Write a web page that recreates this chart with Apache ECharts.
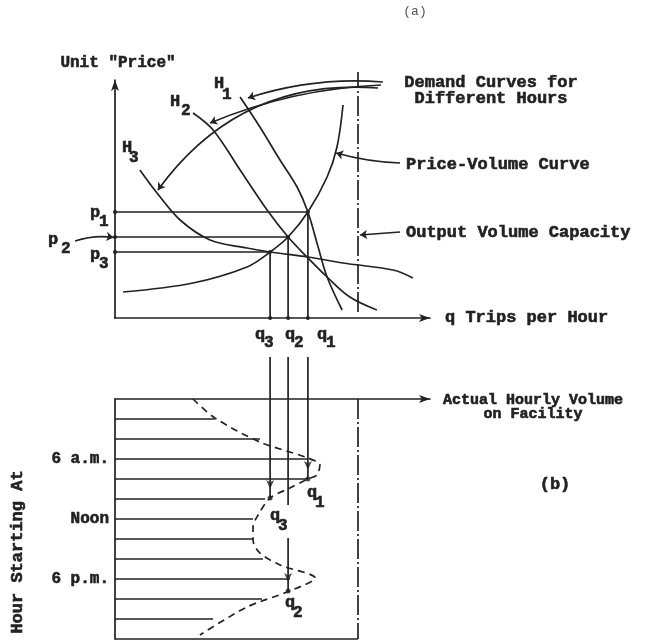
<!DOCTYPE html>
<html>
<head>
<meta charset="utf-8">
<script src="https://cdn.jsdelivr.net/npm/echarts@6/dist/echarts.min.js"></script>
<style>
  html, body { margin: 0; padding: 0; background: #ffffff; }
  #chart { width: 649px; height: 641px; }
</style>
</head>
<body>
<div id="chart"></div>
<script>
// ---------- Panel (a): unit price vs. trips per hour ----------
const priceVolumeQ = [2.7, 26, 44, 51.7, 57.7, 64.3, 70.7, 74, 76];
const priceVolumeP = [13, 17.5, 25.5, 33, 40.5, 53, 70.5, 85.5, 106.5];

const demandH1Q = [41.7, 48.3, 55, 60.7, 64.3, 67.7, 70.7, 75.7];
const demandH1P = [110.5, 95.5, 79, 65.5, 53, 35.5, 20.5, 4];
const demandH2Q = [26, 32.7, 41.7, 50.7, 57.7, 64, 70.7, 78.3, 87.3];
const demandH2P = [102.5, 94, 74, 54, 40.5, 30.5, 20.5, 10.5, 4];
const demandH3Q = [8.3, 14, 21.7, 31.7, 44, 51.7, 64.3, 76, 92.7, 99.3];
const demandH3P = [74, 62.5, 49, 39, 35, 33, 30.5, 27.5, 24, 20];

// equilibrium points, index 0..2 = hours 1..3
const equilibriumQ = [64.3, 57.7, 51.7];
const equilibriumP = [53, 40.5, 33];
const equilibriumNames = ['1', '2', '3'];
const capacityQ = 81;

// ---------- Panel (b): hourly volume through the day ----------
const barHours   = [2, 4, 6, 8, 10, 12, 14, 16, 18, 20, 22];
const barVolumes = [33.3, 48.3, 64.3, 64.3, 50, 46, 46, 49.3, 58.3, 49, 32.7];
const profileHours   = [0, 1.9, 4.3, 5.9, 6.6, 7.6, 8, 8.9, 9.9, 11.6, 12.8, 14.1, 15.4, 16.6, 17.9, 19.3, 20.8, 23.6];
const profileVolumes = [26, 33.3, 48.3, 64.3, 68.3, 67.3, 64.3, 58.3, 51.7, 47.7, 46, 46, 48.3, 55, 66.7, 57.3, 44, 28.3];
const hourTicks = [6, 12, 18];
const hourTickLabels = ['6 a.m.', 'Noon', '6 p.m.'];
// hour at which each equilibrium volume q1, q2, q3 meets the daily profile
const equilibriumHours = [8, 19.2, 9.9];

// ---------- styling ----------
const INK = '#222222';
const LW = 1.7;
const FONT_FAMILY = '"Liberation Mono", "DejaVu Sans Mono", monospace';
const FONT = 'bold 17px ' + FONT_FAMILY;
const SUB_FONT = 'bold 16px ' + FONT_FAMILY;
const TEXT_WEIGHT = 0.6; // extra stroke for a heavier typewriter look

const pairs = (xs, ys) => xs.map((x, i) => [x, ys[i]]);

function curve(grid, data, extra) {
  return Object.assign({
    type: 'line', xAxisIndex: grid, yAxisIndex: grid, data: data,
    symbol: 'none', smooth: 0.4, clip: false, silent: true, z: 3,
    lineStyle: { color: INK, width: LW }
  }, extra || {});
}

function arrows(grid, items, size) {
  return {
    type: 'lines', coordinateSystem: 'cartesian2d', xAxisIndex: grid, yAxisIndex: grid,
    clip: false, silent: true, z: 4,
    symbol: ['none', 'arrow'], symbolSize: size || 8,
    lineStyle: { color: INK, width: LW, opacity: 1 },
    data: items.map(it => ({ coords: it.coords, lineStyle: { curveness: it.curveness || 0 } }))
  };
}

const hiddenAxisParts = {
  axisTick: { show: false }, axisLabel: { show: false }, splitLine: { show: false }
};

const series = [];

// demand curves and the price-volume curve
series.push(curve(0, pairs(priceVolumeQ, priceVolumeP), { smooth: 0.35 }));
series.push(curve(0, pairs(demandH1Q, demandH1P), { smooth: 0.35 }));
series.push(curve(0, pairs(demandH2Q, demandH2P), { smooth: 0.35 }));
series.push(curve(0, pairs(demandH3Q, demandH3P), { smooth: 0.35 }));

// output volume capacity (dash-dot), both panels
series.push(curve(0, [[capacityQ, 3], [capacityQ, 123]], {
  smooth: false, lineStyle: { color: INK, width: LW, type: [20, 3, 2, 3] }
}));
series.push(curve(1, [[capacityQ, 0], [capacityQ, 24]], {
  smooth: false, lineStyle: { color: INK, width: LW, type: [20, 3, 2, 3] }
}));

// price and volume read-offs for each equilibrium
equilibriumQ.forEach((q, i) => {
  const p = equilibriumP[i];
  series.push(curve(0, [[0, p], [q, p], [q, 0]], {
    smooth: false, symbol: 'circle', symbolSize: 4, showSymbol: true, showAllSymbol: true,
    itemStyle: { color: INK }
  }));
});

// leader arrows naming the curves
series.push(arrows(0, [
  { coords: [[89.3, 118], [44.3, 110]], curveness: -0.1 },
  { coords: [[88.7, 116.5], [31.7, 97.5]], curveness: -0.09 },
  { coords: [[87.7, 115], [14.3, 64]], curveness: -0.28 },
  { coords: [[95, 77.5], [73.7, 82.5]], curveness: 0.06 },
  { coords: [[95, 43], [81.7, 41.5]], curveness: 0 },
  { coords: [[-13.3, 38.5], [-0.5, 40.3]], curveness: 0.12 }
], 7));

// panel (b): bottom border of the facility box
series.push(curve(1, [[0, 24], [capacityQ, 24]], { smooth: false }));

// hourly volumes as horizontal strokes from the time axis
series.push({
  type: 'custom', xAxisIndex: 1, yAxisIndex: 1, silent: true, z: 3,
  data: pairs(barVolumes, barHours),
  encode: { x: 0, y: 1 },
  renderItem: function (params, api) {
    const a = api.coord([0, api.value(1)]);
    const b = api.coord([api.value(0), api.value(1)]);
    return {
      type: 'line',
      shape: { x1: a[0], y1: a[1], x2: b[0], y2: b[1] },
      style: { stroke: INK, lineWidth: LW }
    };
  }
});

// continuous daily volume profile (dashed)
series.push(curve(1, pairs(profileVolumes, profileHours), {
  smooth: 0.3, lineStyle: { color: INK, width: LW, type: [7, 5] }
}));

// equilibrium volumes carried down to the hour they occur
const dropStart = -4.2;
equilibriumQ.forEach((q, i) => {
  const h = equilibriumHours[i];
  if (i === 1) {
    series.push(curve(1, [[q, dropStart], [q, 10.6]], { smooth: false }));
    series.push(curve(1, [[q, 13.9], [q, h]], { smooth: false }));
  } else {
    series.push(curve(1, [[q, dropStart], [q, h]], { smooth: false }));
  }
});
series.push({
  type: 'scatter', xAxisIndex: 1, yAxisIndex: 1, silent: true, z: 5, clip: false,
  symbol: 'circle', symbolSize: 5, itemStyle: { color: INK },
  data: pairs(equilibriumQ, equilibriumHours)
});
series.push({
  type: 'scatter', xAxisIndex: 1, yAxisIndex: 1, silent: true, z: 5, clip: false,
  symbol: 'arrow', symbolSize: [6, 9], symbolRotate: 180, itemStyle: { color: INK },
  data: equilibriumQ.map((q, i) => [q, equilibriumHours[i] - 0.9])
});

const boldText = {
  color: INK, fontWeight: 'bold', fontFamily: FONT_FAMILY,
  textBorderColor: INK, textBorderWidth: TEXT_WEIGHT
};

const option = {
  animation: false,
  backgroundColor: '#ffffff',
  textStyle: { fontFamily: FONT_FAMILY },
  grid: [
    { left: 115, top: 80, width: 315, height: 238 },
    { left: 115, top: 399, width: 315, height: 240 }
  ],
  xAxis: [
    Object.assign({
      gridIndex: 0, type: 'value', min: 0, max: 105,
      axisLine: { show: true, onZero: false, symbol: ['none', 'arrow'], symbolSize: [6, 11],
        lineStyle: { color: INK, width: LW } },
      name: 'q Trips per Hour', nameLocation: 'end', nameGap: 15,
      nameTextStyle: Object.assign({ fontSize: 17, align: 'left', verticalAlign: 'middle',
        padding: [2, 0, 0, 0] }, boldText)
    }, hiddenAxisParts),
    Object.assign({
      gridIndex: 1, type: 'value', min: 0, max: 105, position: 'top',
      axisLine: { show: true, onZero: false, symbol: ['none', 'arrow'], symbolSize: [6, 11],
        lineStyle: { color: INK, width: LW } }
    }, hiddenAxisParts)
  ],
  yAxis: [
    Object.assign({
      gridIndex: 0, type: 'value', min: 0, max: 119,
      axisLine: { show: true, onZero: false, symbol: ['none', 'arrow'], symbolSize: [6, 11],
        lineStyle: { color: INK, width: LW } },
      name: 'Unit "Price"', nameLocation: 'end', nameGap: 9,
      nameTextStyle: Object.assign({ fontSize: 16, align: 'center', padding: [0, 0, 0, 6] }, boldText)
    }, hiddenAxisParts),
    {
      gridIndex: 1, type: 'value', min: 0, max: 24, interval: 6, inverse: true,
      axisLine: { show: true, onZero: false, lineStyle: { color: INK, width: LW } },
      axisTick: { show: false }, splitLine: { show: false },
      axisLabel: Object.assign({
        show: true, margin: 6, fontSize: 16,
        formatter: function (v) {
          const k = hourTicks.indexOf(v);
          return k < 0 ? '' : hourTickLabels[k];
        }
      }, boldText)
    }
  ],
  series: series
};

const chart = echarts.init(document.getElementById('chart'), null, { renderer: 'canvas' });
chart.setOption(option);

// ---------- text annotations ----------
const g = [];
function txt(x, y, text, opts) {
  g.push({
    type: 'text', x: x, y: y, silent: true, z: 10,
    style: Object.assign({
      text: text, font: FONT, fill: INK, stroke: INK, lineWidth: TEXT_WEIGHT,
      align: 'left', verticalAlign: 'middle'
    }, opts || {})
  });
}
function subscripted(x, y, base, digit, dx, dy) {
  txt(x, y, base);
  txt(x + dx, y + dy, digit, { font: SUB_FONT });
}

// p1..p3 on the price axis
const pOffsets = [[-25, 1, 9, 9], [-67, 3, 13, 9], [-25, 3, 9, 9]];
equilibriumP.forEach((p, i) => {
  const pt = chart.convertToPixel({ gridIndex: 0 }, [0, p]);
  const o = pOffsets[i];
  subscripted(pt[0] + o[0], pt[1] + o[1], 'p', equilibriumNames[i], o[2], o[3]);
});

// q1..q3 under the volume axis
const qOffsets = [[9, 0], [-3, 0], [-15, 0]];
equilibriumQ.forEach((q, i) => {
  const pt = chart.convertToPixel({ gridIndex: 0 }, [q, 0]);
  subscripted(pt[0] + qOffsets[i][0], pt[1] + 17, 'q', equilibriumNames[i], 9, 8);
});

// q1..q3 at the matching hours in panel (b)
const qLowOffsets = [[-1, 14], [-3, 12], [0, 18]];
equilibriumQ.forEach((q, i) => {
  const pt = chart.convertToPixel({ gridIndex: 1 }, [q, equilibriumHours[i]]);
  subscripted(pt[0] + qLowOffsets[i][0], pt[1] + qLowOffsets[i][1], 'q', equilibriumNames[i], 8, 10);
});

// demand curve names
subscripted(214, 84, 'H', '1', 8, 11);
subscripted(170, 102, 'H', '2', 11, 9);
subscripted(122, 148, 'H', '3', 7, 10);

txt(415, 12, '(a)', { font: '13px ' + FONT_FAMILY, fill: '#555', stroke: null, lineWidth: 0, align: 'center' });
txt(491, 83, 'Demand Curves for', { align: 'center' });
txt(491, 99, 'Different Hours', { align: 'center' });
txt(406, 165, 'Price-Volume Curve');
txt(406, 233, 'Output Volume Capacity');
txt(533, 400, 'Actual Hourly Volume', { align: 'center', font: 'bold 15px ' + FONT_FAMILY });
txt(533, 414, 'on Facility', { align: 'center', font: 'bold 15px ' + FONT_FAMILY });
txt(555, 485, '(b)', { align: 'center' });
g.push({
  type: 'text', x: 18, y: 552, rotation: Math.PI / 2, silent: true, z: 10,
  style: {
    text: 'Hour Starting At', font: FONT, fill: INK, stroke: INK, lineWidth: TEXT_WEIGHT,
    align: 'center', verticalAlign: 'middle'
  }
});

chart.setOption({ graphic: g });
</script>
</body>
</html>
